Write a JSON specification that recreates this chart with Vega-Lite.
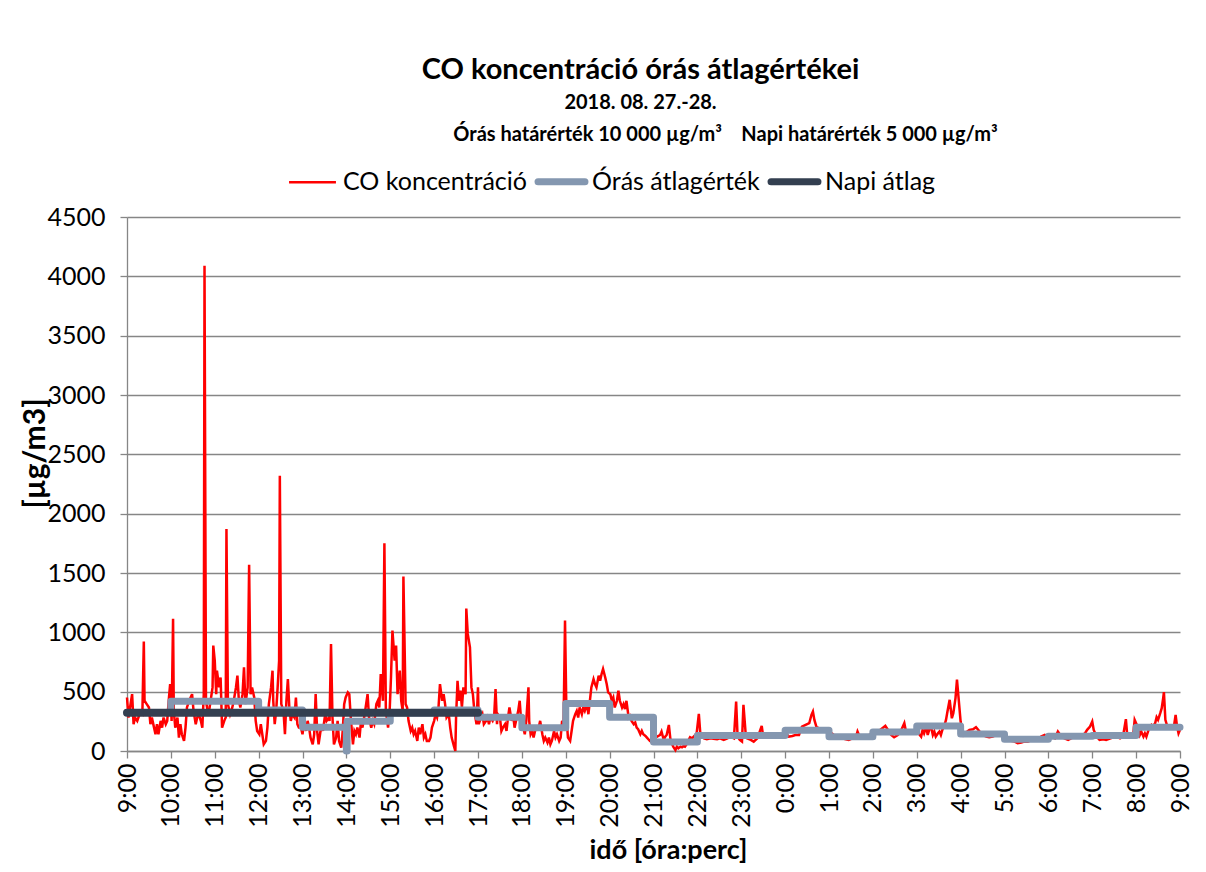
{
  "$schema": "https://vega.github.io/schema/vega-lite/v6.json",
  "width": 1053,
  "height": 534,
  "autosize": {"type": "none"},
  "padding": {"left": 127, "top": 217, "right": 26, "bottom": 121},
  "background": "white",
  "config": {
    "font": "Lato",
    "view": {"stroke": null},
    "axis": {"labelColor": "black", "titleColor": "black", "domainColor": "#868686", "tickColor": "#868686", "gridColor": "#868686", "domainWidth": 1.3, "tickWidth": 1.3, "gridWidth": 1.3}
  },
  "title": {
    "text": "CO koncentráció órás átlagértékei",
    "subtitle": ["2018. 08. 27.-28.", "\u200b\u00a0\u00a0\u00a0\u00a0\u00a0\u00a0\u00a0\u00a0\u00a0\u00a0\u00a0\u00a0\u00a0\u00a0\u00a0\u00a0\u00a0\u00a0\u00a0\u00a0\u00a0\u00a0\u00a0\u00a0\u00a0\u00a0\u00a0\u00a0\u00a0\u00a0\u00a0\u00a0\u00a0\u00a0\u00a0Órás határérték 10 000 µg/m³\u00a0\u00a0\u00a0\u00a0Napi határérték 5 000 µg/m³"],
    "fontSize": 29,
    "fontWeight": "bold",
    "color": "black",
    "subtitleFontSize": 20,
    "subtitleFontWeight": "bold",
    "subtitleColor": "black",
    "subtitleLineHeight": 32,
    "subtitlePadding": 8,
    "anchor": "middle",
    "dx": -13,
    "offset": 24
  },
  "datasets": {
    "co": [
      {"t":0,"v":451},{"t":2,"v":282},{"t":7,"v":479},{"t":9,"v":226},{"t":11,"v":282},{"t":14,"v":254},{"t":18,"v":324},{"t":21,"v":310},{"t":23,"v":922},{"t":24,"v":423},{"t":27,"v":395},{"t":30,"v":367},{"t":32,"v":226},{"t":34,"v":282},{"t":37,"v":197},{"t":39,"v":141},{"t":41,"v":226},{"t":43,"v":141},{"t":46,"v":254},{"t":48,"v":197},{"t":50,"v":282},{"t":53,"v":226},{"t":55,"v":254},{"t":57,"v":423},{"t":59,"v":564},{"t":61,"v":254},{"t":63,"v":1114},{"t":64,"v":338},{"t":66,"v":197},{"t":69,"v":282},{"t":71,"v":113},{"t":73,"v":226},{"t":75,"v":141},{"t":78,"v":85},{"t":80,"v":197},{"t":82,"v":367},{"t":85,"v":423},{"t":87,"v":451},{"t":89,"v":479},{"t":91,"v":338},{"t":94,"v":226},{"t":96,"v":282},{"t":98,"v":310},{"t":101,"v":254},{"t":103,"v":197},{"t":105,"v":479},{"t":106,"v":4090},{"t":108,"v":423},{"t":111,"v":310},{"t":113,"v":367},{"t":117,"v":536},{"t":118,"v":888},{"t":120,"v":761},{"t":122,"v":479},{"t":123,"v":677},{"t":126,"v":536},{"t":128,"v":620},{"t":130,"v":197},{"t":133,"v":254},{"t":135,"v":282},{"t":136,"v":1870},{"t":138,"v":395},{"t":141,"v":310},{"t":144,"v":367},{"t":146,"v":423},{"t":149,"v":536},{"t":151,"v":635},{"t":153,"v":423},{"t":155,"v":367},{"t":158,"v":479},{"t":160,"v":705},{"t":162,"v":395},{"t":165,"v":536},{"t":167,"v":1570},{"t":169,"v":479},{"t":171,"v":536},{"t":174,"v":451},{"t":176,"v":254},{"t":178,"v":169},{"t":181,"v":141},{"t":183,"v":226},{"t":185,"v":141},{"t":187,"v":56},{"t":190,"v":85},{"t":192,"v":197},{"t":194,"v":395},{"t":197,"v":536},{"t":199,"v":677},{"t":200,"v":423},{"t":202,"v":226},{"t":204,"v":338},{"t":206,"v":536},{"t":208,"v":761},{"t":209,"v":2320},{"t":211,"v":395},{"t":214,"v":338},{"t":216,"v":141},{"t":218,"v":423},{"t":220,"v":606},{"t":222,"v":367},{"t":224,"v":254},{"t":226,"v":310},{"t":229,"v":282},{"t":231,"v":451},{"t":233,"v":226},{"t":235,"v":197},{"t":238,"v":197},
      {"t":240,"v":141},{"t":242,"v":226},{"t":245,"v":169},{"t":247,"v":254},{"t":249,"v":197},{"t":251,"v":113},{"t":254,"v":56},{"t":256,"v":141},{"t":258,"v":479},{"t":260,"v":169},{"t":262,"v":56},{"t":264,"v":141},{"t":266,"v":226},{"t":268,"v":169},{"t":271,"v":310},{"t":273,"v":254},{"t":276,"v":282},{"t":277,"v":254},{"t":279,"v":902},{"t":281,"v":282},{"t":283,"v":56},{"t":286,"v":113},{"t":288,"v":254},{"t":290,"v":85},{"t":293,"v":28},{"t":295,"v":169},{"t":297,"v":395},{"t":299,"v":451},{"t":302,"v":494},{"t":304,"v":479},{"t":306,"v":282},{"t":309,"v":56},{"t":311,"v":169},{"t":313,"v":141},{"t":315,"v":197},{"t":318,"v":113},{"t":320,"v":254},{"t":322,"v":197},{"t":325,"v":310},{"t":327,"v":395},{"t":329,"v":479},{"t":331,"v":282},{"t":334,"v":197},{"t":336,"v":254},{"t":338,"v":226},{"t":341,"v":395},{"t":343,"v":423},{"t":345,"v":367},{"t":347,"v":649},{"t":350,"v":423},{"t":352,"v":1750},{"t":354,"v":338},{"t":357,"v":197},{"t":359,"v":310},{"t":361,"v":620},{"t":363,"v":1015},{"t":366,"v":761},{"t":368,"v":888},{"t":370,"v":479},{"t":373,"v":677},{"t":375,"v":423},{"t":377,"v":338},{"t":378,"v":1470},{"t":381,"v":395},{"t":383,"v":367},{"t":385,"v":254},{"t":388,"v":169},{"t":390,"v":197},{"t":392,"v":141},{"t":394,"v":169},{"t":397,"v":85},{"t":399,"v":197},{"t":401,"v":141},{"t":404,"v":226},{"t":406,"v":113},{"t":408,"v":141},{"t":410,"v":85},{"t":413,"v":85},{"t":415,"v":113},{"t":417,"v":197},{"t":420,"v":254},{"t":422,"v":310},{"t":424,"v":282},{"t":426,"v":367},{"t":428,"v":564},{"t":431,"v":423},{"t":433,"v":479},{"t":435,"v":395},{"t":437,"v":282},{"t":440,"v":310},{"t":442,"v":197},{"t":444,"v":113},{"t":447,"v":42},{"t":449,"v":0},{"t":450,"v":282},{"t":452,"v":592},{"t":454,"v":423},{"t":456,"v":508},{"t":458,"v":367},{"t":460,"v":536},{"t":463,"v":479},{"t":464,"v":1200},{"t":466,"v":987},{"t":469,"v":874},{"t":471,"v":536},{"t":473,"v":479},{"t":475,"v":338},{"t":478,"v":226},{"t":480,"v":536},
      {"t":481,"v":226},{"t":484,"v":282},{"t":486,"v":310},{"t":488,"v":226},{"t":491,"v":254},{"t":493,"v":282},{"t":495,"v":226},{"t":497,"v":282},{"t":500,"v":254},{"t":502,"v":282},{"t":504,"v":522},{"t":506,"v":226},{"t":507,"v":310},{"t":510,"v":282},{"t":512,"v":169},{"t":514,"v":197},{"t":517,"v":226},{"t":519,"v":169},{"t":521,"v":282},{"t":523,"v":367},{"t":526,"v":254},{"t":528,"v":310},{"t":530,"v":197},{"t":533,"v":282},{"t":535,"v":338},{"t":537,"v":423},{"t":539,"v":254},{"t":542,"v":197},{"t":544,"v":141},{"t":546,"v":254},{"t":549,"v":536},{"t":550,"v":254},{"t":552,"v":141},{"t":554,"v":169},{"t":556,"v":113},{"t":559,"v":197},{"t":561,"v":197},{"t":563,"v":197},{"t":565,"v":254},{"t":568,"v":141},{"t":570,"v":85},{"t":572,"v":113},{"t":575,"v":71},{"t":577,"v":113},{"t":579,"v":56},{"t":581,"v":85},{"t":584,"v":169},{"t":586,"v":113},{"t":588,"v":141},{"t":591,"v":85},{"t":593,"v":113},{"t":595,"v":254},{"t":597,"v":226},{"t":599,"v":1100},{"t":601,"v":282},{"t":603,"v":113},{"t":606,"v":85},{"t":608,"v":169},{"t":610,"v":254},{"t":613,"v":310},{"t":615,"v":338},{"t":617,"v":282},{"t":619,"v":367},{"t":622,"v":310},{"t":624,"v":367},{"t":626,"v":338},{"t":629,"v":395},{"t":631,"v":310},{"t":633,"v":423},{"t":635,"v":536},{"t":638,"v":606},{"t":640,"v":564},{"t":642,"v":536},{"t":645,"v":635},{"t":647,"v":592},{"t":649,"v":649},{"t":651,"v":691},{"t":654,"v":620},{"t":656,"v":564},{"t":658,"v":494},{"t":661,"v":479},{"t":663,"v":423},{"t":665,"v":451},{"t":667,"v":367},{"t":670,"v":423},{"t":672,"v":508},{"t":674,"v":423},{"t":677,"v":367},{"t":679,"v":395},{"t":681,"v":353},{"t":683,"v":423},{"t":686,"v":282},{"t":688,"v":296},{"t":690,"v":254},{"t":693,"v":226},{"t":695,"v":240},{"t":697,"v":197},{"t":699,"v":183},{"t":702,"v":141},{"t":704,"v":169},{"t":706,"v":141},{"t":709,"v":127},{"t":711,"v":113},{"t":713,"v":99},{"t":715,"v":85},{"t":718,"v":71},
      {"t":720,"v":107},{"t":725,"v":121},{"t":729,"v":135},{"t":731,"v":164},{"t":734,"v":93},{"t":736,"v":121},{"t":738,"v":135},{"t":741,"v":220},{"t":743,"v":107},{"t":745,"v":65},{"t":747,"v":37},{"t":750,"v":8},{"t":752,"v":37},{"t":754,"v":23},{"t":757,"v":37},{"t":759,"v":31},{"t":761,"v":42},{"t":763,"v":37},{"t":766,"v":65},{"t":768,"v":93},{"t":770,"v":116},{"t":773,"v":107},{"t":775,"v":121},{"t":777,"v":135},{"t":779,"v":149},{"t":782,"v":313},{"t":784,"v":149},{"t":786,"v":121},{"t":789,"v":107},{"t":793,"v":99},{"t":798,"v":107},{"t":802,"v":104},{"t":807,"v":99},{"t":811,"v":107},{"t":816,"v":93},{"t":821,"v":107},{"t":825,"v":121},{"t":830,"v":107},{"t":833,"v":417},{"t":835,"v":121},{"t":838,"v":93},{"t":841,"v":79},{"t":843,"v":389},{"t":846,"v":149},{"t":848,"v":107},{"t":853,"v":93},{"t":857,"v":79},{"t":862,"v":107},{"t":868,"v":212},{"t":870,"v":121},{"t":873,"v":116},{"t":878,"v":121},{"t":882,"v":116},{"t":887,"v":121},{"t":891,"v":127},{"t":896,"v":135},{"t":901,"v":149},{"t":905,"v":121},{"t":910,"v":127},{"t":914,"v":135},{"t":919,"v":135},{"t":923,"v":206},{"t":928,"v":220},{"t":933,"v":234},{"t":936,"v":305},{"t":938,"v":333},{"t":940,"v":262},{"t":943,"v":200},{"t":946,"v":192},{"t":951,"v":183},{"t":955,"v":178},
      {"t":960,"v":164},{"t":965,"v":144},{"t":969,"v":121},{"t":974,"v":116},{"t":978,"v":107},{"t":983,"v":99},{"t":987,"v":93},{"t":992,"v":107},{"t":997,"v":121},{"t":999,"v":164},{"t":1001,"v":135},{"t":1006,"v":127},{"t":1010,"v":121},{"t":1015,"v":135},{"t":1019,"v":149},{"t":1024,"v":164},{"t":1029,"v":172},{"t":1033,"v":192},{"t":1037,"v":212},{"t":1040,"v":183},{"t":1045,"v":135},{"t":1049,"v":116},{"t":1054,"v":135},{"t":1058,"v":164},{"t":1063,"v":234},{"t":1065,"v":172},{"t":1070,"v":155},{"t":1074,"v":149},{"t":1079,"v":155},{"t":1083,"v":144},{"t":1086,"v":121},{"t":1088,"v":178},{"t":1090,"v":149},{"t":1093,"v":206},{"t":1095,"v":135},{"t":1097,"v":178},{"t":1099,"v":220},{"t":1102,"v":135},{"t":1104,"v":164},{"t":1106,"v":121},{"t":1109,"v":149},{"t":1111,"v":164},{"t":1113,"v":135},{"t":1115,"v":178},{"t":1118,"v":220},{"t":1120,"v":262},{"t":1122,"v":333},{"t":1125,"v":431},{"t":1128,"v":276},{"t":1130,"v":319},{"t":1133,"v":446},{"t":1135,"v":601},{"t":1137,"v":460},{"t":1140,"v":248},{"t":1142,"v":178},{"t":1144,"v":135},{"t":1147,"v":155},{"t":1152,"v":178},{"t":1157,"v":183},{"t":1161,"v":200},{"t":1166,"v":164},{"t":1170,"v":135},{"t":1175,"v":121},{"t":1179,"v":116},{"t":1184,"v":121},{"t":1189,"v":135},{"t":1193,"v":135},{"t":1198,"v":121},
      {"t":1200,"v":107},{"t":1205,"v":93},{"t":1209,"v":87},{"t":1214,"v":79},{"t":1218,"v":65},{"t":1223,"v":71},{"t":1227,"v":79},{"t":1232,"v":79},{"t":1237,"v":93},{"t":1241,"v":87},{"t":1246,"v":99},{"t":1250,"v":121},{"t":1255,"v":135},{"t":1259,"v":121},{"t":1264,"v":121},{"t":1269,"v":107},{"t":1273,"v":164},{"t":1278,"v":121},{"t":1282,"v":107},{"t":1287,"v":93},{"t":1291,"v":107},{"t":1296,"v":121},{"t":1301,"v":135},{"t":1305,"v":127},{"t":1310,"v":149},{"t":1313,"v":178},{"t":1317,"v":206},{"t":1320,"v":248},{"t":1322,"v":178},{"t":1326,"v":121},{"t":1330,"v":93},{"t":1335,"v":99},{"t":1339,"v":93},{"t":1344,"v":104},{"t":1349,"v":116},{"t":1353,"v":121},{"t":1358,"v":107},{"t":1362,"v":121},{"t":1366,"v":268},{"t":1368,"v":121},{"t":1371,"v":116},{"t":1376,"v":135},{"t":1378,"v":262},{"t":1381,"v":220},{"t":1383,"v":178},{"t":1385,"v":135},{"t":1387,"v":164},{"t":1390,"v":121},{"t":1392,"v":149},{"t":1394,"v":121},{"t":1397,"v":178},{"t":1399,"v":206},{"t":1401,"v":220},{"t":1403,"v":206},{"t":1406,"v":234},{"t":1408,"v":285},{"t":1410,"v":262},{"t":1413,"v":319},{"t":1415,"v":361},{"t":1417,"v":446},{"t":1418,"v":496},{"t":1420,"v":262},{"t":1423,"v":200},{"t":1425,"v":206},{"t":1427,"v":192},{"t":1429,"v":206},{"t":1432,"v":220},{"t":1434,"v":305},{"t":1436,"v":206},{"t":1438,"v":149},{"t":1440,"v":178}
    ],
    "hourly": [
      {"t":0,"v":325},{"t":60,"v":420},{"t":120,"v":420},{"t":180,"v":345},{"t":240,"v":200},{"t":300,"v":0},{"t":301,"v":250},{"t":360,"v":320},{"t":420,"v":345},{"t":480,"v":285},{"t":540,"v":195},{"t":600,"v":400},{"t":660,"v":285},{"t":720,"v":75},{"t":780,"v":130},{"t":840,"v":130},{"t":900,"v":175},{"t":960,"v":120},{"t":1020,"v":160},{"t":1080,"v":210},{"t":1140,"v":143},{"t":1200,"v":100},{"t":1260,"v":125},{"t":1320,"v":130},{"t":1380,"v":200},{"t":1440,"v":200}
    ],
    "daily": [
      {"t":0,"v":322},{"t":480,"v":322}
    ]
  },
  "encoding": {
    "x": {
      "field": "t", "type": "quantitative",
      "scale": {"domain": [0, 1440], "nice": false, "zero": false},
      "axis": {
        "title": "idő [óra:perc]", "titleFontSize": 27, "titleFontWeight": "bold", "titlePadding": 10, "titleX": 541,
        "values": [0,60,120,180,240,300,360,420,480,540,600,660,720,780,840,900,960,1020,1080,1140,1200,1260,1320,1380,1440],
        "labelExpr": "floor((datum.value / 60 + 9) % 24) + ':00'",
        "labelAngle": 270, "labelAlign": "right", "labelBaseline": "middle",
        "labelFontSize": 25, "labelPadding": 5, "tickSize": 7, "grid": false, "labelOverlap": false
      }
    },
    "y": {
      "field": "v", "type": "quantitative",
      "scale": {"domain": [0, 4500], "nice": false},
      "axis": {
        "title": "[µg/m3]", "titleFontSize": 30, "titleFontWeight": "bold", "titlePadding": -4, "titleY": 236,
        "values": [0,500,1000,1500,2000,2500,3000,3500,4000,4500],
        "format": "d", "labelFontSize": 25, "labelPadding": 15, "tickSize": 7, "grid": true
      }
    },
    "color": {
      "scale": {"domain": ["CO koncentráció", "Órás átlagérték", "Napi átlag"], "range": ["#FF0000", "#8497B0", "#333F50"]},
      "legend": {
        "title": null, "orient": "none", "direction": "horizontal", "legendX": 173, "legendY": -48,
        "labelFontSize": 25, "labelColor": "black", "labelLimit": 0, "symbolType": "stroke", "symbolSize": 2200,
        "labelOffset": 18, "columnPadding": -3,
        "encode": {"symbols": {"update": {
          "strokeWidth": {"signal": "datum.value === 'CO koncentráció' ? 2.5 : 7"},
          "strokeCap": {"signal": "datum.value === 'CO koncentráció' ? 'butt' : 'round'"}
        }}}
      }
    }
  },
  "layer": [
    {
      "data": {"name": "co"},
      "mark": {"type": "line", "strokeWidth": 2.5, "interpolate": "linear"},
      "encoding": {"color": {"datum": "CO koncentráció"}}
    },
    {
      "data": {"name": "hourly"},
      "mark": {"type": "line", "strokeWidth": 7, "interpolate": "step-after", "strokeCap": "round", "strokeJoin": "round"},
      "encoding": {"color": {"datum": "Órás átlagérték"}}
    },
    {
      "data": {"name": "daily"},
      "mark": {"type": "line", "strokeWidth": 8, "strokeCap": "round"},
      "encoding": {"color": {"datum": "Napi átlag"}}
    }
  ]
}
